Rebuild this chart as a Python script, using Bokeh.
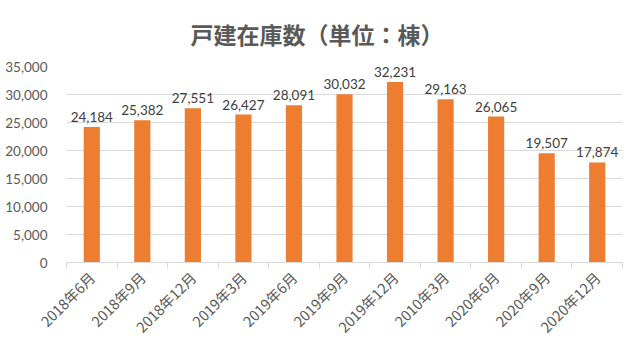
import math
from bokeh.plotting import figure
from bokeh.models import (ColumnDataSource, NumeralTickFormatter, Range1d, FixedTicker, Title,
                          LinearAxis, CustomJSTickFormatter)
from bokeh.embed import file_html
from bokeh.resources import INLINE

title_text = "戸建在庫数（単位：棟）"
categories = ["2018年6月", "2018年9月", "2018年12月", "2019年3月", "2019年6月", "2019年9月",
              "2019年12月", "2010年3月", "2020年6月", "2020年9月", "2020年12月"]
values = [24184, 25382, 27551, 26427, 28091, 30032, 32231, 29163, 26065, 19507, 17874]
labels = [f"{v:,}" for v in values]
y_ticks = [0, 5000, 10000, 15000, 20000, 25000, 30000, 35000]

n = len(categories)
centers = [i + 0.5 for i in range(n)]
src = ColumnDataSource(dict(x=centers, val=values, lab=labels))

p = figure(width=637, height=353, x_range=Range1d(0, n), y_range=Range1d(0, 35000),
           output_backend="svg", toolbar_location=None, x_axis_location=None,
           min_border_left=66, min_border_right=15, min_border_top=66, min_border_bottom=91)
p.outline_line_color = None
p.background_fill_color = "white"
p.border_fill_color = "white"

t = Title(text=title_text, align="left", vertical_align="top", text_font="Noto Sans CJK JP",
          text_font_size="23px", text_font_style="bold", text_color="#595959",
          standoff=28, offset=124)
p.add_layout(t, "above")

p.vbar(x="x", top="val", width=0.32, source=src, color="#ED7D31", line_color=None)
p.text(x="x", y="val", text="lab", source=src, text_align="center", text_baseline="bottom",
       y_offset=-5, text_font_size="13.5px", text_color="#404040",
       text_font={"value": "Lato"})

p.yaxis.ticker = FixedTicker(ticks=y_ticks)
p.yaxis.formatter = NumeralTickFormatter(format="0,0")
p.yaxis.axis_line_color = None
p.yaxis.major_tick_line_color = None
p.yaxis.minor_tick_line_color = None
p.yaxis.major_label_text_font = "Lato"
p.yaxis.major_label_text_font_size = "13.5px"
p.yaxis.major_label_text_color = "#595959"
p.yaxis.major_label_standoff = 13

# boundary tick marks between categories
tick_axis = LinearAxis(ticker=FixedTicker(ticks=list(range(n + 1))),
                       formatter=CustomJSTickFormatter(code="return ''"),
                       axis_line_color="#D9D9D9", major_tick_line_color="#D9D9D9",
                       major_tick_in=0, major_tick_out=6, minor_tick_line_color=None,
                       major_label_text_font_size="1px", major_label_standoff=0)
p.add_layout(tick_axis, "below")

cat_axis = LinearAxis(ticker=FixedTicker(ticks=centers),
                      formatter=CustomJSTickFormatter(args=dict(labels=categories),
                                                      code="return labels[Math.floor(tick)]"),
                      axis_line_color=None, major_tick_line_color=None, minor_tick_line_color=None,
                      major_label_orientation=math.pi / 4,
                      major_label_text_font="Noto Sans CJK JP",
                      major_label_text_font_size="14.5px",
                      major_label_text_color="#595959",
                      major_label_standoff=0)
p.add_layout(cat_axis, "below")

p.xgrid.grid_line_color = None
p.ygrid.grid_line_color = "#D9D9D9"

open("out.html", "w").write(file_html(p, INLINE))
